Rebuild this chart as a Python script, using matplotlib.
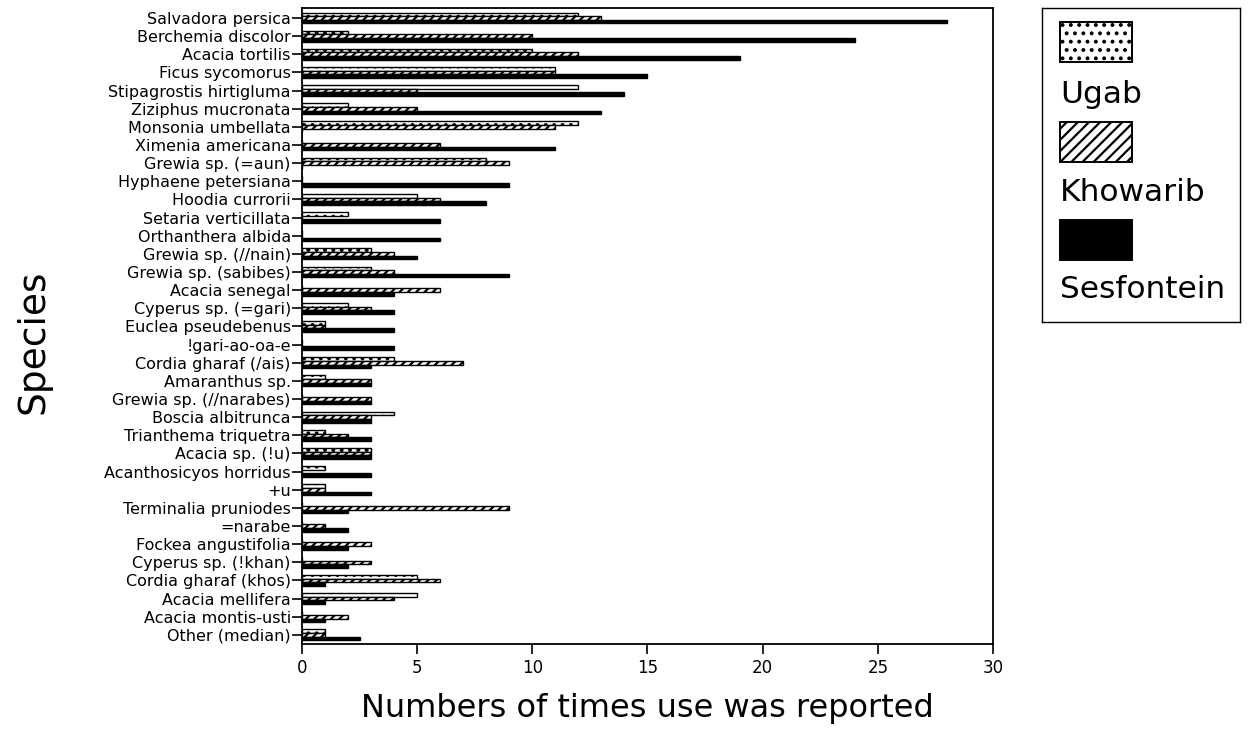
import numpy as np
import matplotlib
matplotlib.use("Agg")
import matplotlib.pyplot as plt
from matplotlib.patches import Rectangle

# data (counts per village)
species = ["Salvadora persica", "Berchemia discolor", "Acacia tortilis", "Ficus sycomorus",
           "Stipagrostis hirtigluma", "Ziziphus mucronata", "Monsonia umbellata",
           "Ximenia americana", "Grewia sp. (=aun)", "Hyphaene petersiana", "Hoodia currorii",
           "Setaria verticillata", "Orthanthera albida", "Grewia sp. (//nain)",
           "Grewia sp. (sabibes)", "Acacia senegal", "Cyperus sp. (=gari)",
           "Euclea pseudebenus", "!gari-ao-oa-e", "Cordia gharaf (/ais)", "Amaranthus sp.",
           "Grewia sp. (//narabes)", "Boscia albitrunca", "Trianthema triquetra",
           "Acacia sp. (!u)", "Acanthosicyos horridus", "+u", "Terminalia pruniodes",
           "=narabe", "Fockea angustifolia", "Cyperus sp. (!khan)", "Cordia gharaf (khos)",
           "Acacia mellifera", "Acacia montis-usti", "Other (median)"]

ugab = [12, 2, 10, 11, 12, 2, 12, 0, 8, 0, 5, 2, 0, 3, 3, 0, 2, 1, 0, 4, 1, 0, 4, 1,
        3, 1, 1, 0, 0, 0, 0, 5, 5, 0, 1]
khowarib = [13, 10, 12, 11, 5, 5, 11, 6, 9, 0, 6, 0, 0, 4, 4, 6, 3, 1, 0, 7, 3, 3, 3, 2,
            3, 0, 1, 9, 1, 3, 3, 6, 4, 2, 1]
sesfontein = [28, 24, 19, 15, 14, 13, 0, 11, 0, 9, 8, 6, 6, 5, 9, 4, 4, 4, 4, 3, 3, 3, 3, 3,
              3, 3, 3, 2, 2, 2, 2, 1, 1, 1, 2.5]

series_names = ["Ugab", "Khowarib", "Sesfontein"]

plt.rcParams['font.family'] = ['DejaVu Sans']
plt.rcParams['hatch.linewidth'] = 1.6

fig = plt.figure(figsize=(12.53, 7.29), dpi=100)
ax = fig.add_axes([0.241, 0.1166, 0.5515, 0.8724])

y = np.arange(len(species))
h = 0.2
ax.barh(y - h, ugab, height=h, color="white", edgecolor="black", hatch="..", linewidth=1.0)
ax.barh(y, khowarib, height=h, color="white", edgecolor="black", hatch="////", linewidth=1.0)
ax.barh(y + h, sesfontein, height=h, color="black", edgecolor="black", linewidth=1.0)

ax.set_ylim(34.5, -0.55)
ax.set_xlim(0, 30)
ax.set_xticks(np.arange(0, 31, 5))
ax.set_yticks(y)
ax.set_yticklabels(species, fontsize=11.5)
ax.tick_params(axis="x", labelsize=12, length=7, width=1.2, direction="out")
ax.tick_params(axis="y", length=7, width=1.2, direction="out", pad=1)
for s in ax.spines.values():
    s.set_linewidth(1.3)

ax.set_xlabel("Numbers of times use was reported", fontsize=23, labelpad=12)
ax.set_ylabel("Species", fontsize=27)
ax.yaxis.set_label_coords(-0.362, 0.475)

# legend box: patches stacked above the names
lax = fig.add_axes([0.8316, 0.5583, 0.158, 0.4307])
lax.set_xlim(0, 1)
lax.set_ylim(0, 1)
lax.set_xticks([])
lax.set_yticks([])
for s in lax.spines.values():
    s.set_linewidth(1.0)
styles = [dict(facecolor="white", hatch=".."), dict(facecolor="white", hatch="///"),
          dict(facecolor="black")]
patch_y = [0.828, 0.510, 0.197]
text_y = [0.723, 0.414, 0.102]
for name, st, py, ty in zip(series_names, styles, patch_y, text_y):
    lax.add_patch(Rectangle((0.091, py), 0.364, 0.127, edgecolor="black", linewidth=1.4, **st))
    lax.text(0.091, ty, name, fontsize=22.5, va="center", ha="left")

fig.savefig("out.png", dpi=100)
